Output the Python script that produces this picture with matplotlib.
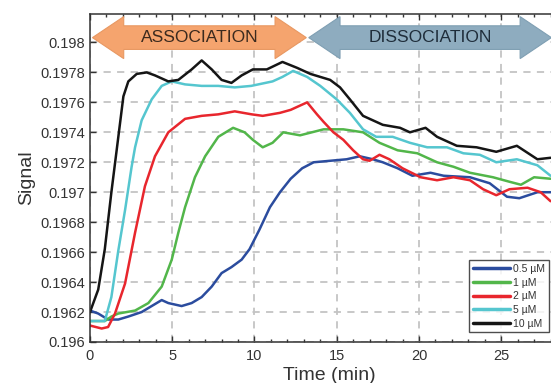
import matplotlib
matplotlib.use("Agg")
import matplotlib.pyplot as plt
from matplotlib.patches import Polygon
from matplotlib.ticker import MultipleLocator, FuncFormatter
import matplotlib.transforms as mtransforms

plt.rcParams['font.family'] = ['Liberation Sans', 'DejaVu Sans']

# ---- data (time in min, signal) ----
t_05 = [0, 0.5, 1.1, 1.72, 2.33, 3.14, 3.75, 4.36, 4.76, 5.57, 6.18, 6.79, 7.4, 8.0, 8.6,
        9.22, 9.7, 10.3, 10.94, 11.55, 12.2, 12.9, 13.6, 14.6, 15.6, 16.4, 17.2, 17.8,
        18.7, 19.6, 20.7, 21.5, 23.1, 24.3, 25.35, 26.1, 27.2, 28.0]
s_05 = [0.19621, 0.19619, 0.19615, 0.19615, 0.19617, 0.19620, 0.19624, 0.19628, 0.19626,
        0.19624, 0.19626, 0.19630, 0.19637, 0.19646, 0.19650, 0.19655, 0.19662, 0.19675,
        0.19690, 0.19700, 0.19709, 0.19716, 0.19720, 0.19721, 0.19722, 0.19724, 0.19722,
        0.19720, 0.19716, 0.19711, 0.19713, 0.19711, 0.19710, 0.19706, 0.19697, 0.19696,
        0.19700, 0.19700]

t_1 = [0, 0.9, 1.3, 1.72, 2.74, 3.55, 4.36, 4.97, 5.37, 5.78, 6.38, 7.0, 7.8, 8.7, 9.4,
       9.9, 10.5, 11.1, 11.75, 12.77, 14.2, 15.4, 16.6, 17.6, 18.7, 19.9, 21.1, 22.1,
       23.1, 24.5, 25.5, 26.2, 27.0, 28.0]
s_1 = [0.19614, 0.19614, 0.19617, 0.19619, 0.19621, 0.19626, 0.19637, 0.19655, 0.19673,
       0.19690, 0.19710, 0.19724, 0.19737, 0.19743, 0.19740, 0.19735, 0.19730, 0.19733,
       0.19740, 0.19738, 0.19742, 0.19742, 0.19740, 0.19733, 0.19728, 0.19726, 0.19720,
       0.19717, 0.19713, 0.19710, 0.19707, 0.19705, 0.19710, 0.19709]

t_2 = [0, 0.71, 1.1, 1.52, 2.13, 2.74, 3.34, 3.95, 4.76, 5.78, 6.79, 7.8, 8.8, 9.83, 10.5,
       11.55, 12.2, 13.2, 13.8, 14.2, 14.8, 15.4, 16.0, 16.6, 17.0, 17.6, 18.2, 19.0,
       20.1, 21.1, 22.1, 23.1, 23.9, 24.7, 25.5, 26.6, 27.4, 28.0]
s_2 = [0.19611, 0.19609, 0.19610, 0.19619, 0.19639, 0.19673, 0.19704, 0.19724, 0.19740,
       0.19749, 0.19751, 0.19752, 0.19754, 0.19752, 0.19751, 0.19753, 0.19755, 0.19760,
       0.19752, 0.19747, 0.19740, 0.19735, 0.19728, 0.19722, 0.19721, 0.19725, 0.19722,
       0.19716, 0.19710, 0.19708, 0.19710, 0.19708, 0.19702, 0.19698, 0.19702, 0.19703,
       0.19700, 0.19694]

t_5 = [0, 0.9, 1.3, 1.72, 2.13, 2.53, 2.74, 3.14, 3.75, 4.36, 4.97, 5.78, 6.79, 7.8, 8.8,
       9.8, 11.1, 11.7, 12.35, 13.2, 14.0, 15.0, 15.8, 16.6, 17.4, 18.4, 19.45, 20.5,
       21.7, 22.7, 23.7, 24.7, 25.95, 27.2, 28.0]
s_5 = [0.19614, 0.19614, 0.19630, 0.19661, 0.19688, 0.19717, 0.19730, 0.19748, 0.19762,
       0.19771, 0.19774, 0.19772, 0.19771, 0.19771, 0.19770, 0.19771, 0.19774, 0.19777,
       0.19781, 0.19777, 0.19771, 0.19762, 0.19753, 0.19742, 0.19737, 0.19737, 0.19733,
       0.19730, 0.19730, 0.19726, 0.19725, 0.19720, 0.19722, 0.19718, 0.19711]

t_10 = [0, 0.5, 0.9, 1.3, 1.62, 2.03, 2.33, 2.84, 3.45, 3.95, 4.76, 5.37, 6.18, 6.79, 7.4,
        8.0, 8.6, 9.22, 9.9, 10.75, 11.7, 12.6, 13.4, 14.6, 15.2, 15.8, 16.6, 17.8, 18.85,
        19.45, 20.4, 21.1, 22.3, 23.5, 24.7, 25.95, 27.2, 28.0]
s_10 = [0.19620, 0.19635, 0.19662, 0.19700, 0.19728, 0.19764, 0.19774, 0.19779, 0.19780,
        0.19778, 0.19774, 0.19775, 0.19782, 0.19788, 0.19782, 0.19775, 0.19773, 0.19778,
        0.19782, 0.19782, 0.19787, 0.19783, 0.19779, 0.19775, 0.19770, 0.19762, 0.19751,
        0.19745, 0.19743, 0.19740, 0.19743, 0.19737, 0.19731, 0.19730, 0.19727, 0.19731,
        0.19722, 0.19723]

series = [(t_05, s_05, '0.5 µM', '#2b4c9e'),
          (t_1, s_1, '1 µM', '#52b64a'),
          (t_2, s_2, '2 µM', '#e8262d'),
          (t_5, s_5, '5 µM', '#55c6cf'),
          (t_10, s_10, '10 µM', '#151515')]

# ---- figure ----
W, H = 551, 383
fig = plt.figure(figsize=(W / 100, H / 100), dpi=100)
ax = fig.add_axes([90 / W, 1 - 342 / H, 465 / W, 328 / H])

for t, s, lab, c in series:
    ax.plot(t, s, color=c, lw=1.8, label=lab, solid_capstyle='round',
            solid_joinstyle='round')

ax.set_xlim(0, 28.27)
ax.set_ylim(0.196, 0.19819)

ax.xaxis.set_major_locator(MultipleLocator(5))
ax.xaxis.set_minor_locator(MultipleLocator(1))
ax.yaxis.set_major_locator(MultipleLocator(0.0002))
ax.yaxis.set_major_formatter(FuncFormatter(lambda v, p: f"{v:.4f}".rstrip('0')))
ax.tick_params(which='both', direction='in', top=True, right=False, colors='#333333',
               labelsize=10.5, width=1)
ax.tick_params(which='major', length=4)
ax.tick_params(which='minor', length=2.5)
ax.tick_params(axis='x', pad=5)
ax.grid(True, which='major', color='#c4c4c4', ls=(0, (4, 3.5)), lw=1.3)
for sp in ax.spines.values():
    sp.set_color('#333333')
    sp.set_linewidth(1.1)

ax.set_ylabel('Signal', fontsize=14, color='#333333', labelpad=4)
ax.set_xlabel('Time (min)', fontsize=14, color='#333333')
ax.xaxis.set_label_coords(0.515, -0.075)

leg = ax.legend(loc='lower right', bbox_to_anchor=(459 / 465, 0.03), fontsize=7.5,
                frameon=True, fancybox=False, handlelength=3.6, handletextpad=0.3,
                borderpad=0.35, labelspacing=0.35, borderaxespad=0)
leg.get_frame().set_edgecolor('#222222')
leg.get_frame().set_linewidth(1.0)
for line in leg.get_lines():
    line.set_linewidth(2.5)
for txt in leg.get_texts():
    txt.set_color('#333333')


# ---- phase arrows (x in minutes, y in axes fraction) ----
def double_arrow(x0, x1, yc, fc, ec, text, tc):
    trans = mtransforms.blended_transform_factory(ax.transData, ax.transAxes)
    hl = 1.9      # head length in minutes
    bh = 0.036    # body half height (axes fraction)
    hh = 0.064    # head half height
    pts = [(x0, yc), (x0 + hl, yc + hh), (x0 + hl, yc + bh), (x1 - hl, yc + bh),
           (x1 - hl, yc + hh), (x1, yc), (x1 - hl, yc - hh), (x1 - hl, yc - bh),
           (x0 + hl, yc - bh), (x0 + hl, yc - hh)]
    ax.add_patch(Polygon(pts, closed=True, transform=trans, facecolor=fc,
                         edgecolor=ec, lw=0.8, zorder=5, clip_on=False))
    ax.text((x0 + x1) / 2, yc, text, transform=trans, ha='center', va='center',
            fontsize=12.5, color=tc, zorder=6)


double_arrow(0.15, 13.15, 0.928, '#f5a46e', '#e89862', 'ASSOCIATION', '#3b2a1e')
double_arrow(13.3, 28.05, 0.928, '#8eacbf', '#7f9fb3', 'DISSOCIATION', '#1f2d3a')

fig.savefig('out.png', dpi=100)
